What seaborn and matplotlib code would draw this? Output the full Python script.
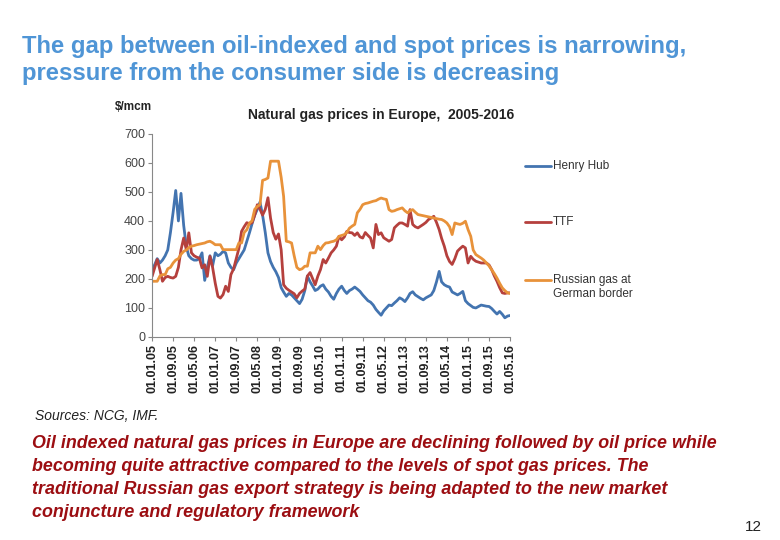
import pandas as pd
import numpy as np
import matplotlib
matplotlib.use("Agg")
import matplotlib.pyplot as plt
from matplotlib.lines import Line2D
import seaborn as sns

# monthly prices, $/mcm, Jan 2005 - May 2016
henry_hub = [232, 250, 270, 255, 265, 280, 300, 360, 430, 505,
             400, 495, 385, 310, 280, 270, 265, 265, 270, 290,
             195, 240, 280, 245, 290, 280, 285, 295, 290, 255,
             240, 232, 255, 270, 285, 300, 330, 360, 390, 420,
             440, 465, 420, 360, 290, 260, 240, 225, 205, 170,
             155, 140, 150, 145, 135, 125, 115, 130, 160, 210,
             190, 175, 160, 165, 175, 180, 165, 155, 140, 130,
             150, 165, 175, 160, 150, 160, 165, 172, 165, 157,
             145, 135, 125, 120, 110, 95, 85, 75, 90, 100,
             110, 108, 117, 125, 135, 130, 122, 135, 150, 156,
             145, 139, 133, 128, 135, 140, 145, 160, 190, 226,
             190, 180, 175, 172, 155, 150, 145, 150, 157, 125,
             115, 108, 102, 100, 105, 110, 108, 106, 105, 98,
             88, 79, 88, 78, 66, 72, 74]
ttf = [209, 240, 267, 232, 192, 205, 209, 205, 203, 209,
       240, 300, 341, 300, 359, 290, 280, 275, 272, 238,
       249, 209, 278, 240, 185, 140, 134, 146, 175, 157,
       215, 235, 270, 305, 364, 380, 394, 390, 394, 420,
       456, 440, 420, 440, 480, 410, 360, 337, 355, 300,
       180, 168, 161, 155, 149, 135, 150, 158, 165, 210,
       222, 200, 180, 210, 232, 267, 255, 272, 290, 300,
       313, 347, 335, 345, 364, 360, 359, 350, 359, 345,
       341, 360, 350, 341, 307, 388, 353, 359, 342, 336,
       330, 336, 376, 385, 393, 393, 388, 382, 439, 388,
       380, 376, 382, 388, 395, 405, 410, 416, 395, 370,
       340, 313, 280, 260, 250, 270, 296, 305, 313, 307,
       255, 278, 268, 261, 258, 255, 255, 255, 248, 232,
       210, 192, 170, 152, 150, 152, 152]
russian_border = [192, 192, 192, 210, 215, 215, 235, 240, 255, 265,
                  270, 285, 295, 300, 308, 313, 315, 318, 320, 322,
                  324, 328, 330, 325, 318, 318, 318, 301, 301, 301,
                  301, 301, 301, 324, 324, 360, 370, 393, 400, 440,
                  450, 456, 540, 543, 548, 606, 606, 606, 606, 550,
                  485, 330, 328, 324, 280, 240, 232, 235, 244, 244,
                  290, 290, 290, 313, 301, 315, 324, 325, 328, 330,
                  335, 347, 350, 353, 360, 375, 382, 388, 428, 440,
                  456, 460, 462, 465, 468, 470, 475, 479, 476, 474,
                  439, 433, 435, 439, 442, 445, 435, 428, 435, 439,
                  430, 422, 420, 418, 416, 414, 412, 410, 408, 406,
                  405, 400, 393, 380, 353, 393, 390, 388, 392, 399,
                  370, 347, 300, 284, 278, 272, 265, 255, 245, 232,
                  218, 203, 185, 169, 160, 152, 150]

series_names = ["Henry Hub", "TTF", "Russian gas at\nGerman border"]
colors = ["#4374B0", "#B5403D", "#E8923A"]

months = pd.date_range("2005-01-01", "2016-05-01", freq="MS")
df = pd.DataFrame({"date": months, series_names[0]: henry_hub,
                   series_names[1]: ttf, series_names[2]: russian_border})
df_long = df.melt(id_vars="date", var_name="series", value_name="price")

sns.set_style("white")
plt.rcParams["font.family"] = ["Liberation Sans", "DejaVu Sans"]

fig = plt.figure(figsize=(7.8, 5.4), dpi=100)
ax = fig.add_axes([0.195, 0.376, 0.459, 0.376])

sns.lineplot(data=df_long, x="date", y="price", hue="series",
             palette=colors, linewidth=2, legend=False, ax=ax)

# axes look
tick_dates = pd.date_range("2005-01-01", periods=18, freq="8MS")
ax.set_xticks(tick_dates)
ax.set_xticklabels([d.strftime("%d.%m.%y") for d in tick_dates],
                   rotation=90, fontsize=9, fontweight="bold", color="#222222")
ax.set_xlim(months[0], months[-1])
ax.set_ylim(0, 700)
ax.set_yticks(range(0, 701, 100))
ax.tick_params(axis="y", labelsize=9, labelcolor="#444444", length=3,
               color="#888888", direction="out", left=True, pad=2)
ax.tick_params(axis="x", length=3, color="#888888", direction="out",
               bottom=True, pad=2)
ax.set_xlabel("")
ax.set_ylabel("")
for s in ["top", "right"]:
    ax.spines[s].set_visible(False)
for s in ["left", "bottom"]:
    ax.spines[s].set_color("#888888")
    ax.spines[s].set_linewidth(0.8)

fig.text(115 / 780, 1 - 107 / 540, "$/mcm", fontsize=8.5, fontweight="bold",
         va="center", ha="left", color="#222222")
fig.text(248 / 780, 1 - 115 / 540, "Natural gas prices in Europe,  2005-2016",
         fontsize=10, fontweight="bold", va="center", ha="left", color="#222222")

# legend drawn at the right of the plot
legend_y = [166, 222, 280]
for name, col, ly in zip(series_names, colors, legend_y):
    yy = 1 - ly / 540
    fig.add_artist(Line2D([525 / 780, 551 / 780], [yy, yy], color=col,
                          linewidth=2, transform=fig.transFigure))
    fig.text(553 / 780, yy + 0.012, name, fontsize=8.5, va="top", ha="left",
             color="#333333", linespacing=1.3)

# slide texts
fig.text(22 / 780, 1 - 60 / 540,
         "The gap between oil-indexed and spot prices is narrowing,\n"
         "pressure from the consumer side is decreasing",
         fontsize=17.2, fontweight="bold", color="#4F95D6",
         va="center", ha="left", linespacing=1.22)
fig.text(35 / 780, 1 - 416 / 540, "Sources: NCG, IMF.", fontsize=10,
         style="italic", color="#222222", va="center", ha="left")
fig.text(32 / 780, 1 - 478 / 540,
         "Oil indexed natural gas prices in Europe are declining followed by oil price while\n"
         "becoming quite attractive compared to the levels of spot gas prices. The\n"
         "traditional Russian gas export strategy is being adapted to the new market\n"
         "conjuncture and regulatory framework",
         fontsize=12.9, fontweight="bold", style="italic", color="#9C0E12",
         va="center", ha="left", linespacing=1.45)
fig.text(762 / 780, 1 - 527 / 540, "12", fontsize=11, color="#222222",
         va="center", ha="right")

fig.savefig("out.png", dpi=100)
